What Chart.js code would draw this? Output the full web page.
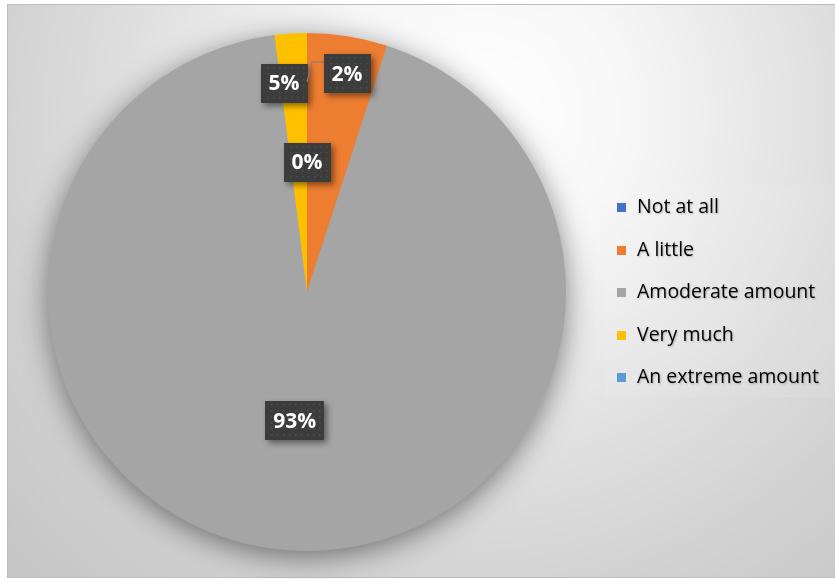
<!DOCTYPE html>
<html>
<head>
<meta charset="utf-8">
<script src="https://cdn.jsdelivr.net/npm/chart.js@4"></script>
<style>
  html, body { margin: 0; padding: 0; background: #ffffff; }
  #wrap { position: relative; width: 835px; height: 579px; overflow: hidden; }
  #frame {
    position: absolute; left: 7px; top: 4px; width: 840px; height: 572px;
    border: 1px solid #bdbdbd;
    background: radial-gradient(circle at 470px 110px, #ffffff 0px, #f7f7f7 150px, #dedede 360px, #d2d2d2 480px, #c6c6c6 640px);
  }
  #pie { position: absolute; left: 0; top: 0; }
  #legend {
    position: absolute; left: 605px; top: 185px; width: 230px; height: 212px;
    background: rgba(255,255,255,0.08);
    font-family: "Open Sans", sans-serif; font-size: 19.5px; color: #000;
    text-shadow: 1px 1px 2px rgba(0,0,0,0.25);
  }
  .item { position: absolute; left: 12px; height: 24px; line-height: 24px; white-space: nowrap; }
  .item i { display: inline-block; width: 9px; height: 9px; margin-right: 11px; vertical-align: 1px; }
</style>
</head>
<body>
<div id="wrap">
  <div id="frame"></div>
  <canvas id="pie" width="835" height="579"></canvas>
  <div id="legend"></div>
</div>
<script>
const categories = ['Not at all', 'A little', 'Amoderate amount', 'Very much', 'An extreme amount'];
const percentValues = [0, 5, 93, 2, 0];
const sliceColors = ['#4472C4', '#ED7D31', '#A5A5A5', '#FFC000', '#5B9BD5'];

// where each data label sits: angle (deg from top, clockwise) or 'mid', distance as fraction of radius
const labelSpots = [
  { deg: 'mid', f: 0.5 },
  { deg: -6.3, f: 0.81 },
  { deg: 'mid', f: 0.5 },
  { deg: 10.4, f: 0.856, leader: true },
  null
];

// html legend from the same arrays
const legendEl = document.getElementById('legend');
categories.forEach(function(name, i) {
  const d = document.createElement('div');
  d.className = 'item';
  d.style.top = (9 + i * 42.5) + 'px';
  d.innerHTML = '<i style="background:' + sliceColors[i] + '"></i>' + name;
  legendEl.appendChild(d);
});

// soft shadow under the pie
const pieShadow = {
  id: 'pieShadow',
  beforeDatasetsDraw: function(chart) {
    const arc = chart.getDatasetMeta(0).data[0];
    if (!arc) return;
    const ctx = chart.ctx;
    ctx.save();
    ctx.shadowColor = 'rgba(0,0,0,0.5)';
    ctx.shadowBlur = 30;
    ctx.shadowOffsetY = 6;
    ctx.fillStyle = '#A5A5A5';
    ctx.beginPath();
    ctx.arc(arc.x, arc.y, arc.outerRadius - 1, 0, Math.PI * 2);
    ctx.fill();
    ctx.restore();
  }
};

// dark boxed percentage labels
const boxLabels = {
  id: 'boxLabels',
  afterDatasetsDraw: function(chart) {
    const ctx = chart.ctx;
    const arcs = chart.getDatasetMeta(0).data;
    ctx.save();
    ctx.font = 'bold 21px "Open Sans", sans-serif';
    ctx.textAlign = 'center';
    ctx.textBaseline = 'middle';
    arcs.forEach(function(arc, i) {
      const spot = labelSpots[i];
      if (!spot) return;
      const r = arc.outerRadius;
      let ang;
      if (spot.deg === 'mid') ang = (arc.startAngle + arc.endAngle) / 2;
      else ang = -Math.PI / 2 + spot.deg * Math.PI / 180;
      const cx = arc.x + Math.cos(ang) * r * spot.f;
      const cy = arc.y + Math.sin(ang) * r * spot.f;
      const text = percentValues[i] + '%';
      const w = ctx.measureText(text).width + 16;
      const h = 39;
      const bx = Math.round(cx - w / 2), by = Math.round(cy - h / 2);

      if (spot.leader) {
        // leader line back to the slice edge
        const ex = arc.x + Math.cos(arc.endAngle) * r * 0.81;
        const ey = arc.y + Math.sin(arc.endAngle) * r * 0.81;
        ctx.strokeStyle = '#7f7f7f';
        ctx.lineWidth = 1.2;
        ctx.beginPath();
        ctx.moveTo(bx, by + 8);
        ctx.lineTo(ex + 5, by + 8);
        ctx.lineTo(ex, ey);
        ctx.stroke();
      }

      ctx.save();
      ctx.shadowColor = 'rgba(0,0,0,0.45)';
      ctx.shadowBlur = 6;
      ctx.shadowOffsetX = 3;
      ctx.shadowOffsetY = 3;
      ctx.fillStyle = '#3c3c3c';
      ctx.fillRect(bx, by, w, h);
      ctx.restore();
      // dotted texture
      ctx.fillStyle = '#4e4e4e';
      for (let yy = by + 3; yy < by + h - 1; yy += 6) {
        for (let xx = bx + 3 + ((yy - by) % 12 ? 3 : 0); xx < bx + w - 1; xx += 6) {
          ctx.fillRect(xx, yy, 1.5, 1.5);
        }
      }
      ctx.fillStyle = '#ffffff';
      ctx.fillText(text, cx, cy + 1);
    });
    ctx.restore();
  }
};

new Chart(document.getElementById('pie'), {
  type: 'pie',
  data: {
    labels: categories,
    datasets: [{
      data: percentValues,
      backgroundColor: sliceColors,
      borderWidth: 0,
      hoverOffset: 0
    }]
  },
  options: {
    responsive: false,
    devicePixelRatio: 1,
    animation: false,
    layout: { padding: { left: 48, right: 269, top: 33, bottom: 28 } },
    plugins: {
      legend: { display: false },
      tooltip: { enabled: false }
    }
  },
  plugins: [pieShadow, boxLabels]
});
</script>
</body>
</html>
